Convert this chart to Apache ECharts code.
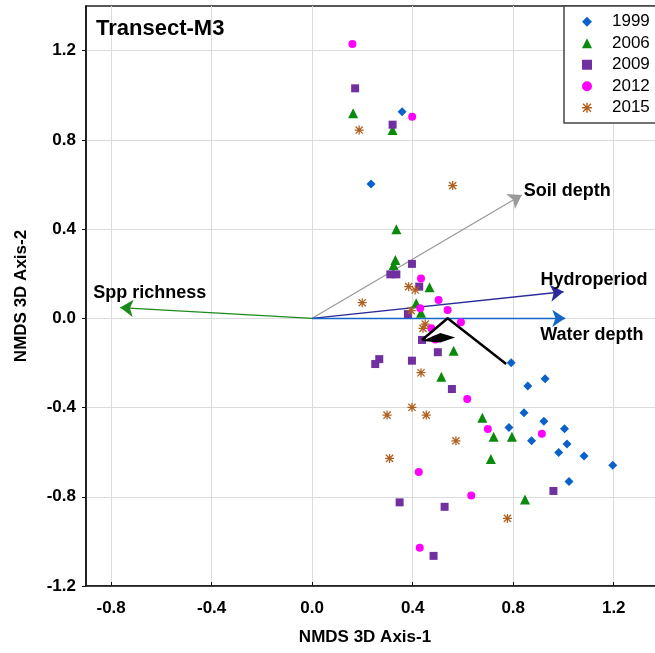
<!DOCTYPE html>
<html>
<head>
<meta charset="utf-8">
<script src="https://cdn.jsdelivr.net/npm/echarts@6/dist/echarts.min.js"></script>
<style>html,body{margin:0;padding:0;background:#fff;}#c{width:655px;height:653px;}</style>
</head>
<body>
<div id="c"></div>
<script>
const xTicks = [-0.8, -0.4, 0, 0.4, 0.8, 1.2];
const yTicks = [-1.2, -0.8, -0.4, 0, 0.4, 0.8, 1.2];
const years = ['1999', '2006', '2009', '2012', '2015'];

const pts1999 = [[0.358,0.926],[0.234,0.602],[0.792,-0.199],[0.858,-0.304],[0.927,-0.271],[0.843,-0.423],[0.922,-0.462],[0.783,-0.489],[1.004,-0.495],[0.873,-0.549],[1.014,-0.564],[0.981,-0.601],[1.082,-0.617],[1.196,-0.659],[1.022,-0.731]];
const pts2006 = [[0.163,0.919],[0.320,0.844],[0.335,0.399],[0.331,0.261],[0.324,0.239],[0.467,0.139],[0.414,0.067],[0.433,0.025],[0.563,-0.145],[0.514,-0.262],[0.677,-0.446],[0.722,-0.531],[0.795,-0.531],[0.711,-0.631],[0.847,-0.812]];
const pts2009 = [[0.171,1.031],[0.320,0.868],[0.397,0.244],[0.311,0.197],[0.335,0.197],[0.426,0.142],[0.381,0.019],[0.437,-0.097],[0.500,-0.152],[0.397,-0.190],[0.267,-0.183],[0.251,-0.205],[0.556,-0.317],[0.960,-0.774],[0.348,-0.825],[0.527,-0.845],[0.483,-1.065]];
const pts2012 = [[0.160,1.230],[0.398,0.904],[0.433,0.179],[0.503,0.082],[0.539,0.037],[0.592,-0.018],[0.430,0.045],[0.474,-0.045],[0.490,-0.095],[0.617,-0.362],[0.699,-0.496],[0.914,-0.517],[0.424,-0.689],[0.633,-0.794],[0.428,-1.029]];
const pts2015 = [[0.187,0.844],[0.559,0.595],[0.199,0.070],[0.384,0.142],[0.410,0.127],[0.394,0.034],[0.450,-0.026],[0.441,-0.045],[0.433,-0.244],[0.397,-0.399],[0.298,-0.434],[0.454,-0.434],[0.572,-0.549],[0.308,-0.628],[0.777,-0.897]];

const vectorNames = ['Spp richness', 'Soil depth', 'Hydroperiod', 'Water depth'];
const vectorTips = [[-0.764,0.048],[0.834,0.553],[1.000,0.119],[1.007,0.000]];

const blackPath = [[0.772,-0.205],[0.539,0.000],[0.437,-0.097]];
const blackHead = [[0.437,-0.102],[0.510,-0.066],[0.569,-0.086],[0.510,-0.108]];

const yearColors = ['#0a62c9', '#0a8a0a', '#7030a0', '#ff00ff', '#b0601e'];
const yearSymbols = ['diamond', 'triangle', 'rect', 'circle',
  'path://M4.3,0H5.7V10H4.3Z M0,4.3H10V5.7H0Z M1.5,0.5L9.5,8.5L8.5,9.5L0.5,1.5Z M8.5,0.5L9.5,1.5L1.5,9.5L0.5,8.5Z'];
const yearSizes = [9, 10, 8, 8, 9];
const yearData = [pts1999, pts2006, pts2009, pts2012, pts2015];

const vectorColors = ['#1a8a1a', '#9a9a9a', '#2a2a9a', '#1565c8'];
const labelPos = [[-27,-15],[2,-4],[-23,-12],[-25,17]];

const chart = echarts.init(document.getElementById('c'), null, {renderer: 'canvas'});

const series = [];
series.push({
  type: 'lines',
  coordinateSystem: 'cartesian2d',
  z: 2,
  symbol: ['none', 'arrow'],
  symbolSize: 13,
  data: vectorTips.map((t, i) => ({
    coords: [[0, 0], t],
    lineStyle: {color: vectorColors[i], width: 1.3, opacity: 1}
  })),
  silent: true
});
series.push({
  type: 'scatter',
  z: 3,
  symbolSize: 0,
  silent: true,
  data: vectorTips.map((t, i) => ({
    value: t,
    label: {
      show: true,
      formatter: vectorNames[i],
      position: labelPos[i],
      align: 'left',
      verticalAlign: 'middle',
      fontSize: 18,
      fontWeight: 'bold',
      color: '#000',
      opacity: 1,
      fontFamily: 'Liberation Sans, Arial, sans-serif'
    }
  }))
});
years.forEach((y, i) => {
  series.push({
    name: y,
    type: 'scatter',
    z: 4,
    symbol: yearSymbols[i],
    symbolSize: yearSizes[i],
    itemStyle: {color: yearColors[i], opacity: 1},
    data: yearData[i]
  });
});
series.push({
  type: 'line',
  z: 6,
  data: blackPath,
  showSymbol: false,
  symbol: 'none',
  lineStyle: {color: '#000', width: 2.5},
  silent: true
});
series.push({
  type: 'custom',
  z: 6,
  silent: true,
  data: [0],
  renderItem: function (params, api) {
    return {
      type: 'polygon',
      shape: {points: blackHead.map(p => api.coord(p))},
      style: {fill: '#000'}
    };
  }
});

const axisFont = {fontSize: 17, fontWeight: 'bold', color: '#000', fontFamily: 'Liberation Sans, Arial, sans-serif'};

chart.setOption({
  animation: false,
  backgroundColor: '#fff',
  title: {
    text: 'Transect-M3',
    left: 96,
    top: 18,
    padding: 0,
    textStyle: {fontSize: 22, fontWeight: 'bold', color: '#000', fontFamily: 'Liberation Sans, Arial, sans-serif'}
  },
  grid: {
    left: 86, top: 6, right: -9, bottom: 67,
    outerBoundsMode: 'none',
    containLabel: false,
    show: true, borderColor: '#222', borderWidth: 1.5, backgroundColor: 'transparent'
  },
  legend: {
    orient: 'vertical',
    left: 582,
    top: 11,
    z: 12,
    padding: 0,
    itemWidth: 10,
    itemHeight: 10,
    itemGap: 0,
    data: years,
    textStyle: {fontSize: 17, color: '#000', lineHeight: 21.5, padding: [0,0,0,15], fontFamily: 'Liberation Sans, Arial, sans-serif'}
  },
  graphic: [{
    type: 'rect',
    z: 11,
    shape: {x: 564, y: 6, width: 110, height: 117},
    style: {fill: '#fff', stroke: '#444', lineWidth: 1.5}
  }],
  xAxis: {
    type: 'value',
    min: -0.9, max: 1.4,
    name: 'NMDS 3D Axis-1',
    nameLocation: 'middle',
    nameGap: 43,
    nameTextStyle: Object.assign({padding: [0, 20, 0, 0]}, axisFont),
    axisLine: {onZero: false, lineStyle: {color: '#111', width: 1.5}},
    axisTick: {show: true, inside: true, length: 4, customValues: xTicks, lineStyle: {color: '#111'}},
    axisLabel: Object.assign({customValues: xTicks, margin: 14, formatter: v => v.toFixed(1)}, axisFont),
    splitLine: {show: true, lineStyle: {color: '#dcdcdc', width: 1}}
  },
  yAxis: {
    type: 'value',
    min: -1.2, max: 1.4,
    name: 'NMDS 3D Axis-2',
    nameLocation: 'middle',
    nameGap: 56,
    nameTextStyle: axisFont,
    axisLine: {onZero: false, lineStyle: {color: '#111', width: 1.5}},
    axisTick: {show: true, inside: false, length: 4, customValues: yTicks, lineStyle: {color: '#111'}},
    axisLabel: Object.assign({customValues: yTicks, margin: 10, formatter: v => v.toFixed(1)}, axisFont),
    splitLine: {show: true, lineStyle: {color: '#dcdcdc', width: 1}}
  },
  series: series
});
</script>
</body>
</html>
